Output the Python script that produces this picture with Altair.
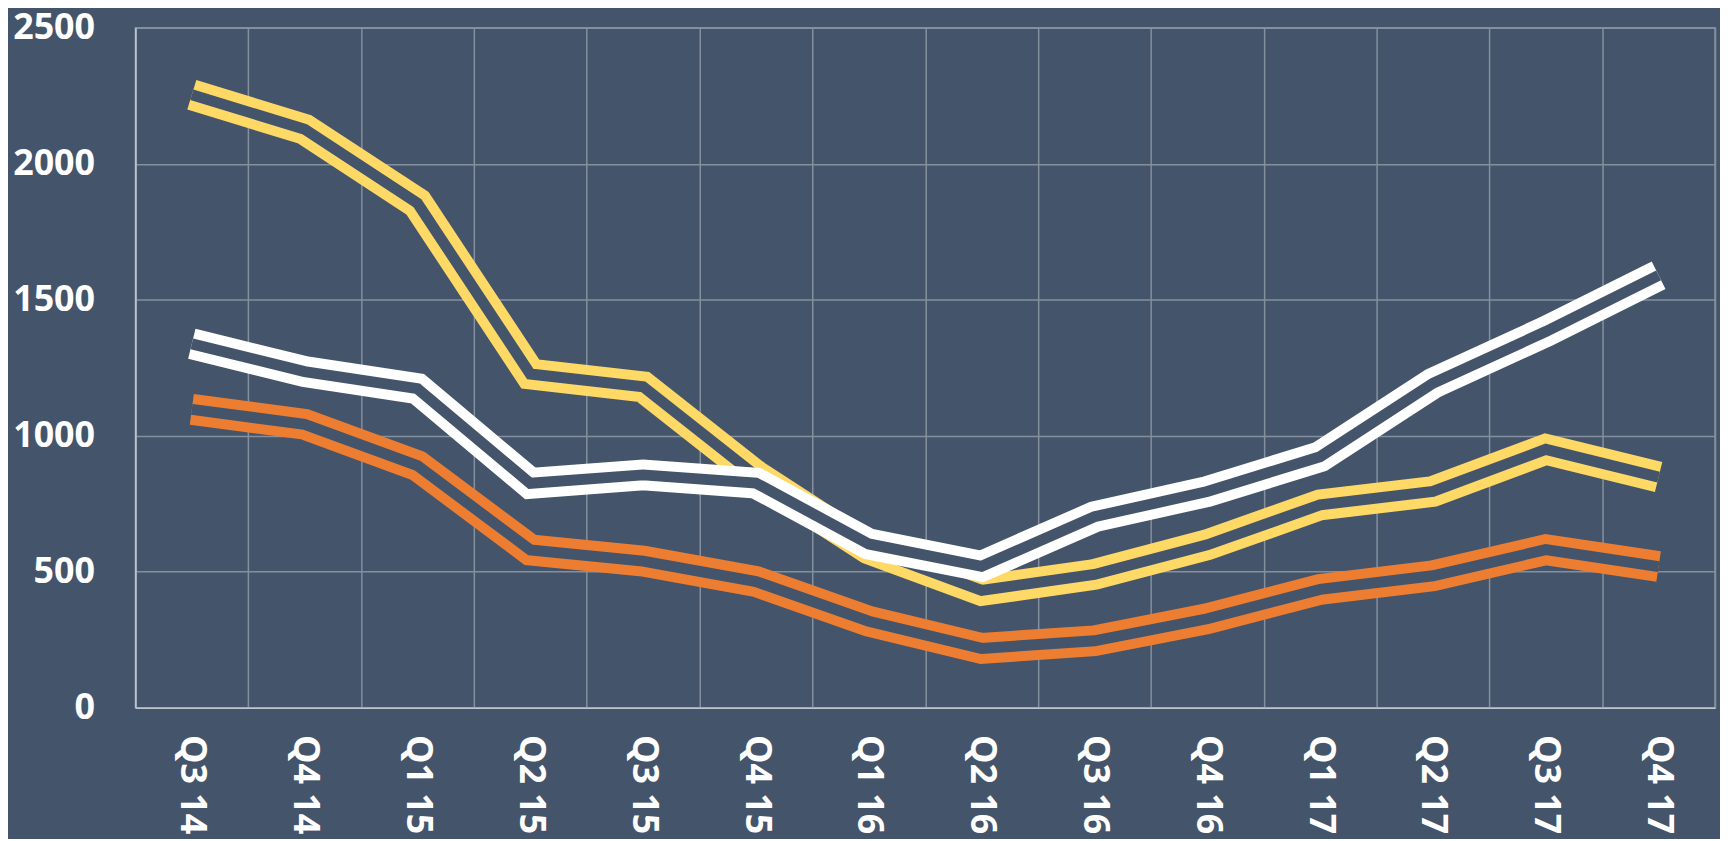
import altair as alt
import pandas as pd

quarters = ["Q3 14", "Q4 14", "Q1 15", "Q2 15", "Q3 15", "Q4 15", "Q1 16",
            "Q2 16", "Q3 16", "Q4 16", "Q1 17", "Q2 17", "Q3 17", "Q4 17"]
yellow = [2254, 2127, 1855, 1227, 1180, 853, 584, 431, 490, 599, 746, 795, 950, 848]
white = [1338, 1236, 1173, 825, 856, 826, 602, 520, 702, 795, 923, 1193, 1383, 1590]
orange = [1097, 1042, 890, 580, 539, 464, 318, 218, 246, 327, 435, 485, 581, 519]

BG = "#44546A"
series = [("orange", orange, "#ED7D31"), ("yellow", yellow, "#FFD966"), ("white", white, "#FFFFFF")]

x_enc = alt.X(
    "q:N", sort=quarters, bandPosition=0.5,
    scale=alt.Scale(type="band", paddingInner=0, paddingOuter=0),
    axis=alt.Axis(title=None, tickBand="extent", grid=True, ticks=False,
                  labelAngle=90, labelPadding=27, labelFont="Open Sans",
                  labelFontWeight="bold", labelFontSize=36, labelColor="#FFFFFF",
                  domainColor="#BFC5CD", domainWidth=1.5,
                  gridColor="#85909E", gridWidth=1.5),
)
y_enc = alt.Y(
    "v:Q",
    scale=alt.Scale(domain=[0, 2500], nice=False, zero=True),
    axis=alt.Axis(title=None, values=[0, 500, 1000, 1500, 2000, 2500], ticks=False,
                  format="d",
                  labelPadding=41, labelFont="Open Sans", labelFontWeight="bold",
                  labelFontSize=36, labelColor="#FFFFFF",
                  domainColor="#C8CDD4", domainWidth=1.5,
                  gridColor="#85909E", gridWidth=1.5),
)

layers = []
for name, vals, color in series:
    df = pd.DataFrame({"q": quarters, "v": vals, "s": name})
    base = alt.Chart(df)
    layers.append(base.mark_line(color=color, strokeWidth=31, strokeJoin="miter",
                                 strokeCap="butt").encode(x=x_enc, y=y_enc))
    layers.append(base.mark_line(color=BG, strokeWidth=11, strokeJoin="miter",
                                 strokeCap="butt").encode(x=x_enc, y=y_enc))

chart = alt.layer(*layers).properties(
    width=1587, height=683,
    autosize=alt.AutoSizeParams(type="none"),
    padding={"left": 128, "top": 18, "right": 5, "bottom": 130},
    background=BG,
).configure_view(stroke="#85909E", strokeWidth=1.5)

chart.save("out.html", embed_options={"renderer": "svg", "actions": False})
